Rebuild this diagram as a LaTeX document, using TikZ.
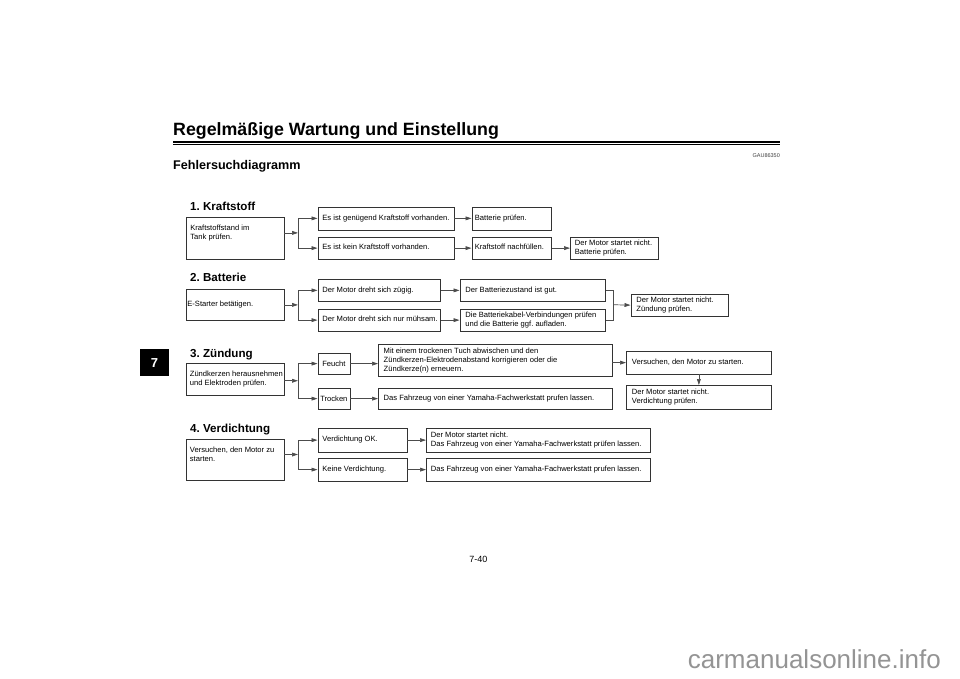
\documentclass[tikz,border=0pt]{standalone}
\usepackage{fontspec}
\setmainfont{Liberation Sans}
\usetikzlibrary{arrows.meta}
\frenchspacing
\newcommand\bt[2]{\makebox[#1pt][l]{\begin{tabular}{@{}l@{}}#2\end{tabular}}}
\newcommand\boxfont{\fontsize{7.6}{9}\selectfont}
\newcommand\mybox[7][4.5]{%
  \pgfmathsetmacro\tw{#5-2*#1}%
  \node[box, inner xsep=#1pt, minimum width=#5pt, minimum height=#6pt] (#2) at (#3,#4) {\bt{\tw}{#7}};}
\tikzset{
  box/.style={draw=black!80, line width=0.75pt, rectangle, inner ysep=0pt, anchor=north west, font=\boxfont, text=black},
  head/.style={anchor=base west, inner sep=0pt, font=\fontsize{11.6}{13}\selectfont\bfseries},
  conn/.style={draw=black!70, line width=0.7pt},
  arr/.style={conn, -{Triangle[length=6pt,width=3.8pt]}},
}
\begin{document}
\begin{tikzpicture}[x=1pt,y=-1pt]
\fill[white] (0,0) rectangle (960,679);
\useasboundingbox (0,0) rectangle (960,679);

% header
\node[anchor=base west, inner sep=0pt, font=\fontsize{17.8}{20}\selectfont\bfseries] (title) at (173,136) {Regelmäßige Wartung und Einstellung};
\draw[line width=1.6pt] (173,141.8) -- (780,141.8);
\draw[line width=0.6pt] (173,144.4) -- (780,144.4);
\node[anchor=base east, inner sep=0pt, font=\fontsize{5.5}{6}\selectfont, text=black!75] (gau) at (780,157.5) {GAU86350};
\node[anchor=base west, inner sep=0pt, font=\fontsize{12.6}{14}\selectfont\bfseries] (sub) at (173,170) {Fehlersuchdiagramm};

% chapter tab
\node[fill=black, anchor=north west, minimum width=28.5pt, minimum height=27pt, inner sep=0pt, text=white, font=\fontsize{13}{15}\selectfont\bfseries] (tab) at (140,349) {7};

% 1. Kraftstoff
\node[head] (h1) at (190,210) {1. Kraftstoff};
\mybox{k0}{185.5}{216.5}{98}{42}{Kraftstoffstand im\\Tank prüfen.\rule[-11.3pt]{0pt}{11.3pt}}
\mybox{k1}{317.5}{206.5}{136}{23}{Es ist genügend Kraftstoff vorhanden.}
\mybox{k2}{317.5}{236.5}{136}{22.5}{Es ist kein Kraftstoff vorhanden.}
\mybox[3]{k3}{471.5}{206.5}{79.5}{23}{Batterie prüfen.}
\mybox[3]{k4}{471.5}{236.5}{79.5}{22.5}{Kraftstoff nachfüllen.}
\mybox{k5}{570}{236.5}{87.5}{22.5}{Der Motor startet nicht.\\Batterie prüfen.}
\coordinate (j1) at (298,232.9);
\draw[arr] (k0.east |- j1) -- (j1);
\draw[arr] (j1) |- (k1.west);
\draw[arr] (j1) |- (k2.west);
\draw[arr] (k1) -- (k3);
\draw[arr] (k2) -- (k4);
\draw[arr] (k4) -- (k5);

% 2. Batterie
\node[head] (h2) at (190,281.5) {2. Batterie};
\mybox[1.5]{b0}{185.5}{289}{98}{30.5}{E-Starter betätigen.}
\mybox{b1}{317.5}{279}{122.5}{22}{Der Motor dreht sich zügig.}
\mybox{b2}{317.5}{308.5}{122.5}{22.5}{Der Motor dreht sich nur mühsam.}
\mybox[5.5]{b3}{459.5}{279}{145.5}{22}{Der Batteriezustand ist gut.}
\mybox[5.5]{b4}{459.5}{308.5}{145.5}{22.5}{Die Batteriekabel-Verbindungen prüfen\\und die Batterie ggf. aufladen.}
\mybox[5.5]{b5}{630.5}{293.5}{97}{22.5}{Der Motor startet nicht.\\Zündung prüfen.}
\coordinate (j2) at (298,304.9);
\draw[arr] (b0.east |- j2) -- (j2);
\draw[arr] (j2) |- (b1.west);
\draw[arr] (j2) |- (b2.west);
\draw[arr] (b1) -- (b3);
\draw[arr] (b2) -- (b4);
\coordinate (m2) at (613.3,304.75);
\draw[conn] (b3.east) -| (m2);
\draw[conn] (b4.east) -| (m2);
\draw[arr] (m2) -- (b5.west);

% 3. Zuendung
\node[head] (h3) at (190,357.5) {3. Zündung};
\mybox[4]{z0}{185.5}{362.5}{98}{32.5}{Zündkerzen herausnehmen\\und Elektroden prüfen.}
\node[box, inner xsep=0pt, minimum width=32pt, minimum height=20.5pt] (zf) at (317.5,353) {Feucht};
\node[box, inner xsep=0pt, minimum width=32pt, minimum height=20.5pt] (zt) at (317.5,388) {Trocken};
\mybox[5.3]{z1}{378}{344}{233.5}{32}{Mit einem trockenen Tuch abwischen und den\\Zündkerzen-Elektrodenabstand korrigieren oder die\\Zündkerze(n) erneuern.}
\mybox[5.3]{z2}{378}{387.5}{233.5}{21}{Das Fahrzeug von einer Yamaha-Fachwerkstatt prufen lassen.}
\mybox[5.5]{z3}{626}{351}{145}{22.5}{Versuchen, den Motor zu starten.}
\mybox[5.5]{z4}{626}{385}{145}{23.5}{Der Motor startet nicht.\\Verdichtung prüfen.}
\coordinate (j3) at (298,380.75);
\draw[arr] (z0.east |- j3) -- (j3);
\draw[arr] (j3) |- (zf.west);
\draw[arr] (j3) |- (zt.west);
\draw[arr] (zf.east) -- (zf.east -| z1.west);
\draw[arr] (zt.east) -- (zt.east -| z2.west);
\draw[arr] (z3.west -| z1.east) -- (z3.west);
\draw[arr] (z3.south) -- (z4.north);

% 4. Verdichtung
\node[head] (h4) at (190,432) {4. Verdichtung};
\mybox[4]{v0}{185.5}{438.5}{98}{41.5}{Versuchen, den Motor zu\\starten.\rule[-11.2pt]{0pt}{11.2pt}}
\mybox{v1}{317.5}{428}{89}{23.5}{Verdichtung OK.}
\mybox{v2}{317.5}{458}{89}{22.5}{Keine Verdichtung.}
\mybox{v3}{426}{428}{224}{23.5}{Der Motor startet nicht.\\Das Fahrzeug von einer Yamaha-Fachwerkstatt prüfen lassen.}
\mybox{v4}{426}{458}{224}{22.5}{Das Fahrzeug von einer Yamaha-Fachwerkstatt prufen lassen.}
\coordinate (j4) at (298,454.5);
\draw[arr] (v0.east |- j4) -- (j4);
\draw[arr] (j4) |- (v1.west);
\draw[arr] (j4) |- (v2.west);
\draw[arr] (v1) -- (v3);
\draw[arr] (v2) -- (v4);

% footer
\node[anchor=base, inner sep=0pt, font=\fontsize{9}{11}\selectfont] (pg) at (478.3,562.5) {7-40};
\node[anchor=base east, inner sep=0pt, font=\fontsize{26}{30}\selectfont, text=black!42] (wm) at (941,668) {carmanualsonline.info};
\end{tikzpicture}
\end{document}
